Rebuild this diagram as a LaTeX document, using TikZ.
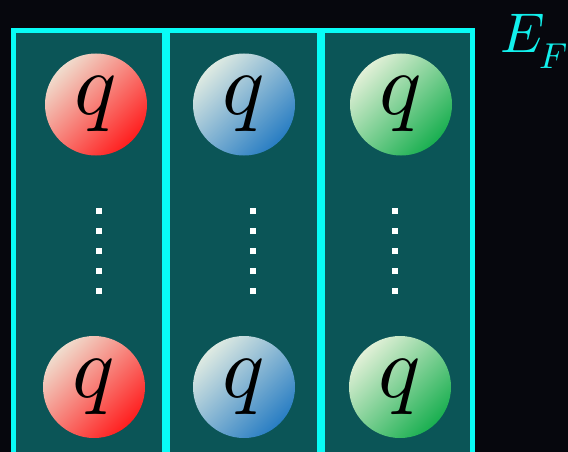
\documentclass[tikz,border=0pt]{standalone}
\usepackage{graphicx}
\begin{document}
\begin{tikzpicture}[x=1pt,y=-1pt,
  colbox/.style={draw=cyanline,line width=5.5pt,fill=tealfill},
  ball/.style={circle,minimum size=102pt,inner sep=0pt},
  redball/.style={ball,top color={rgb,255:red,240;green,220;blue,205},bottom color={rgb,255:red,255;green,30;blue,30},shading angle=45},
  blueball/.style={ball,top color={rgb,255:red,222;green,234;blue,226},bottom color={rgb,255:red,40;green,125;blue,195},shading angle=45},
  greenball/.style={ball,top color={rgb,255:red,225;green,240;blue,215},bottom color={rgb,255:red,25;green,175;blue,80},shading angle=45},
  dot/.style={fill=white,minimum size=6pt,inner sep=0pt,rectangle},
  eflabel/.style={text=efcyan,inner sep=0pt}]
\definecolor{bgdark}{HTML}{06070D}
\definecolor{tealfill}{HTML}{0B5557}
\definecolor{cyanline}{HTML}{08FCF6}
\definecolor{efcyan}{HTML}{12F0EC}
\newcommand{\bigq}{\scalebox{8.8}{$q$}}
\fill[bgdark] (0,0) rectangle (568,452);
\useasboundingbox (0,0) rectangle (568,452);
\begin{scope}
\clip (0,0) rectangle (568,452);
\path[colbox] (13.5,30.5) rectangle (164.5,470);
\path[colbox] (167.5,30.5) rectangle (319.5,470);
\path[colbox] (322.5,30.5) rectangle (472.5,470);
\end{scope}
\node[redball] (r1) at (96,104.5) {\bigq};
\node[blueball] (b1) at (244,104.5) {\bigq};
\node[greenball] (g1) at (401,104.5) {\bigq};
\node[redball] (r2) at (94,387) {\bigq};
\node[blueball] (b2) at (244,387) {\bigq};
\node[greenball] (g2) at (400,387) {\bigq};
\foreach \i/\yy in {1/211,2/231,3/251,4/271,5/291}{
  \node[dot] (da\i) at (99,\yy) {};
  \node[dot] (db\i) at (252.5,\yy) {};
  \node[dot] (dc\i) at (395,\yy) {};
}
\node[eflabel,anchor=base west] (efE) at (500,53) {\scalebox{5.6}{$E$}};
\node[eflabel,anchor=base west] (efF) at (539,68.5) {\scalebox{3.6}{$F$}};
\end{tikzpicture}
\end{document}
